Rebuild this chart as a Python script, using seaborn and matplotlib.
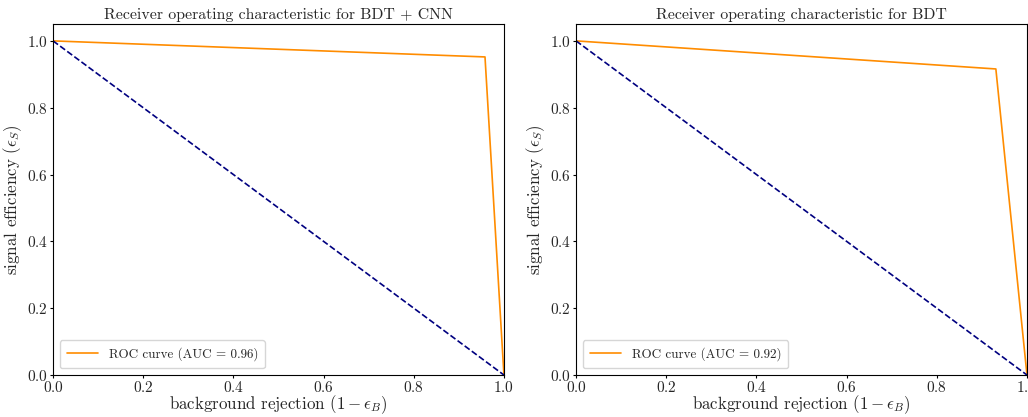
import matplotlib
matplotlib.use("Agg")
import matplotlib.pyplot as plt
import seaborn as sns
import pandas as pd

# ROC data (background rejection, signal efficiency)
cnn_rejection = [0.0, 0.958, 1.0]
cnn_efficiency = [1.0, 0.952, 0.0]
cnn_auc = 0.96

bdt_rejection = [0.0, 0.931, 1.0]
bdt_efficiency = [1.0, 0.916, 0.0]
bdt_auc = 0.92

diag_x = [0.0, 1.0]
diag_y = [1.0, 0.0]

titles = ["Receiver operating characteristic for BDT + CNN",
          "Receiver operating characteristic for BDT"]

sns.set_style("ticks")
plt.rcParams["font.family"] = ["serif"]
plt.rcParams["font.serif"] = ["cmr10", "DejaVu Serif"]
plt.rcParams["mathtext.fontset"] = "cm"
plt.rcParams["axes.formatter.use_mathtext"] = True
plt.rcParams["axes.unicode_minus"] = False

fig, axes = plt.subplots(1, 2, figsize=(10.28, 4.17), dpi=100)
fig.subplots_adjust(left=0.0516, right=0.999, top=0.942, bottom=0.1007, wspace=0.16)

for ax, xs, ys, auc, title in zip(axes,
                                  [cnn_rejection, bdt_rejection],
                                  [cnn_efficiency, bdt_efficiency],
                                  [cnn_auc, bdt_auc], titles):
    df = pd.DataFrame({"x": xs, "y": ys})
    sns.lineplot(data=df, x="x", y="y", ax=ax, color="darkorange", lw=1.2,
                 sort=False, estimator=None,
                 label=f"ROC curve (AUC = {auc:.2f})")
    dd = pd.DataFrame({"x": diag_x, "y": diag_y})
    sns.lineplot(data=dd, x="x", y="y", ax=ax, color="navy", lw=1.2,
                 linestyle="--", sort=False, estimator=None)
    ax.set_xlim(0.0, 1.0)
    ax.set_ylim(0.0, 1.05)
    ax.set_xlabel(r"background rejection $(1-\epsilon_B)$", fontsize=12.2, labelpad=-1)
    ax.set_ylabel(r"signal efficiency $(\epsilon_S)$", fontsize=12.2, labelpad=2)
    ax.set_title(title, fontsize=11.4, pad=4)
    ax.tick_params(labelsize=11, length=2.2, width=0.8, pad=1.5, color="black")
    for s in ax.spines.values():
        s.set_color("black")
        s.set_linewidth(0.8)
    ax.legend(loc="lower left", fontsize=9.4, frameon=True, handlelength=2.4,
              borderpad=0.55)

fig.savefig("out.png", dpi=100)
